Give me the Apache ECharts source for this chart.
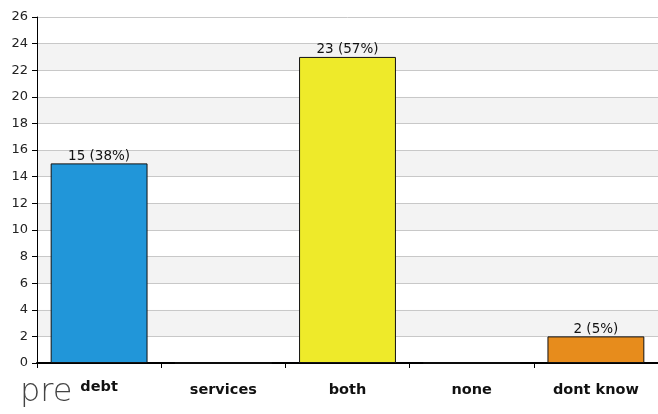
<!DOCTYPE html>
<html><head><meta charset="utf-8">
<script src="https://cdn.jsdelivr.net/npm/echarts@6/dist/echarts.min.js"></script>
<style>html,body{margin:0;padding:0;background:#fff}#c{width:658px;height:414px}</style>
</head><body><div id="c"></div>
<script>
const categories = ['debt', 'services', 'both', 'none', 'dont know'];
const counts = [15, 0, 23, 0, 2];
const percents = [38, 0, 57, 0, 5];
const barColors = ['#2196d9', '#2196d9', '#eeea2a', '#2196d9', '#e78c1c'];
const title = 'pre';

const chart = echarts.init(document.getElementById('c'), null, {renderer: 'canvas'});
chart.setOption({
  animation: false,
  backgroundColor: '#fff',
  title: {
    text: title, left: 15, top: 372,
    textStyle: {fontFamily: 'DejaVu Sans', fontWeight: 200, fontSize: 32, color: '#444'}
  },
  grid: {left: 37, right: 0, top: 17, bottom: 51, containLabel: false},
  xAxis: {
    type: 'category',
    data: categories.map((c, i) => i === 0 ? {value: c, textStyle: {lineHeight: 9}} : c),
    axisLine: {lineStyle: {color: '#000', width: 2}},
    axisTick: {show: true, length: 5, lineStyle: {color: '#000'}},
    axisLabel: {color: '#111', fontFamily: 'DejaVu Sans', fontWeight: 'bold', fontSize: 14.5, margin: 20},
    splitLine: {show: false}
  },
  yAxis: {
    type: 'value', min: 0, max: 26, interval: 2,
    axisLine: {show: true, lineStyle: {color: '#000', width: 1}},
    axisTick: {show: true, length: 5, lineStyle: {color: '#000'}},
    axisLabel: {color: '#222', fontFamily: 'DejaVu Sans', fontSize: 13, margin: 9},
    splitLine: {show: true, lineStyle: {color: '#c8c8c8', width: 1}},
    splitArea: {show: true, areaStyle: {color: ['#ffffff', '#f3f3f3']}}
  },
  series: [{
    type: 'bar',
    data: counts.map((v, i) => ({
      value: v,
      itemStyle: {color: barColors[i]},
      label: {show: v > 0}
    })),
    barCategoryGap: '22%',
    itemStyle: {borderColor: '#111', borderWidth: 1},
    label: {
      show: true, position: 'top', distance: 0,
      fontFamily: 'DejaVu Sans', fontSize: 13.5, color: '#111',
      formatter: p => counts[p.dataIndex] + ' (' + percents[p.dataIndex] + '%)'
    }
  }]
});
</script></body></html>
